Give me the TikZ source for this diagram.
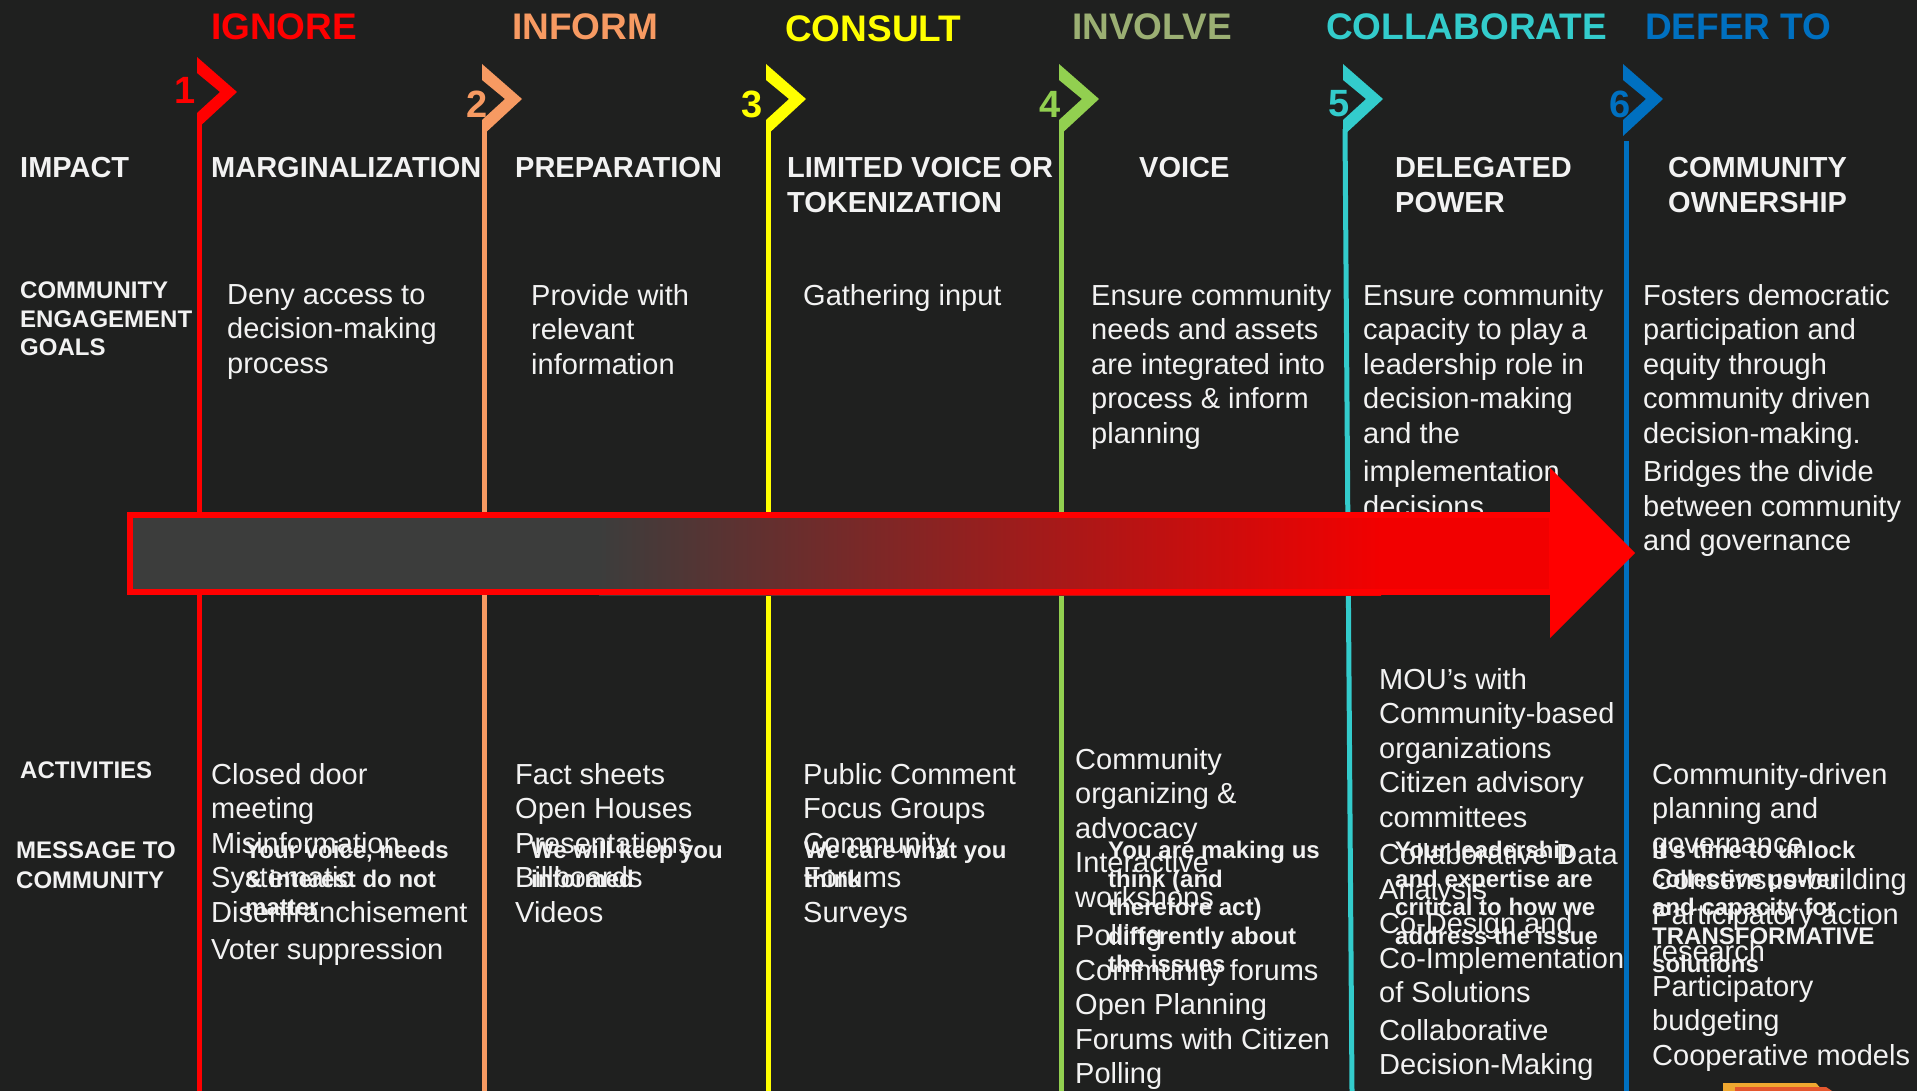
\documentclass[tikz,border=0pt]{standalone}
\usepackage{fontspec}
\setmainfont{Liberation Sans}
\usepackage{xcolor}
\usepackage{tikz}

\definecolor{bgdark}{HTML}{1F201F}
\definecolor{fg}{HTML}{F2F2F2}
\definecolor{ignorered}{HTML}{FF0000}
\definecolor{informorange}{HTML}{F79A62}
\definecolor{consultyellow}{HTML}{FFFF00}
\definecolor{involvegreen}{HTML}{92D050}
\definecolor{involvetitle}{HTML}{9BAF73}
\definecolor{collabteal}{HTML}{33CCCC}
\definecolor{deferblue}{HTML}{0070C0}
\definecolor{argray}{HTML}{3C3D3C}
\definecolor{arred}{HTML}{F20000}
\definecolor{iconorange}{HTML}{F0A830}
\definecolor{iconred}{HTML}{E4572E}

\begin{document}
\begin{tikzpicture}[x=1pt, y=-1pt,
  every node/.style={inner sep=0pt, anchor=north west, text=fg, align=left},
  title/.style={font=\bfseries\fontsize{37}{40}\selectfont},
  num/.style={font=\bfseries\fontsize{38}{40}\selectfont, anchor=east},
  rowlabel/.style={font=\bfseries\fontsize{24}{28.5}\selectfont},
  head/.style={font=\bfseries\fontsize{29}{35}\selectfont},
  body/.style={font=\fontsize{29}{34.5}\selectfont},
  msg/.style={font=\bfseries\fontsize{24}{28.5}\selectfont},
  stage/.style={line width=5pt}]
  \fill[bgdark] (0,0) rectangle (1917,1091);
  \useasboundingbox (0,0) rectangle (1917,1091);

  % Stage lines with their chevrons
  \foreach \x/\t/\c in {199/57/ignorered, 484/64/informorange, 768/64/consultyellow,
                        1061/64/involvegreen, 1345/64/collabteal, 1625/64/deferblue}
    \fill[\c] (\x-2,\t) -- ++(40,35) -- ++(-40,37) -- ++(0,-16) -- ++(23,-21) -- ++(-23,-19) -- cycle;
  \draw[stage, ignorered] (199,122) -- (199,1091);
  \draw[stage, informorange] (484,129) -- (484,1091);
  \draw[stage, consultyellow] (768,129) -- (768,1091);
  \draw[stage, involvegreen] (1061,129) -- (1061,1091);
  \draw[stage, collabteal] (1345,129) -- (1352,1091);
  \draw[stage, deferblue] (1626,141) -- (1626,1091);

  \node[num, text=ignorered] (n1) at (196,90) {1};
  \node[num, text=informorange] (n2) at (488,104) {2};
  \node[num, text=consultyellow] (n3) at (763,104) {3};
  \node[num, text=involvegreen] (n4) at (1061,104) {4};
  \node[num, text=collabteal] (n5) at (1350,104) {5};
  \node[num, text=deferblue] (n6) at (1631,104) {6};

  % Stage titles
  \node[title, text=ignorered] (t1) at (211,13) {IGNORE};
  \node[title, text=informorange] (t2) at (512,13) {INFORM};
  \node[title, text=consultyellow] (t3) at (785,15) {CONSULT};
  \node[title, text=involvetitle] (t4) at (1072,13) {INVOLVE};
  \node[title, text=collabteal] (t5) at (1326,13) {COLLABORATE};
  \node[title, text=deferblue] (t6) at (1645,13) {DEFER TO};

  % Impact row
  \node[head] (h0) at (20,157) {IMPACT};
  \node[head] (h1) at (211,157) {MARGINALIZATION};
  \node[head] (h2) at (515,157) {PREPARATION};
  \node[head] (h3) at (787,157) {LIMITED VOICE OR\\TOKENIZATION};
  \node[head] (h4) at (1139,157) {VOICE};
  \node[head] (h5) at (1395,157) {DELEGATED\\POWER};
  \node[head] (h6) at (1668,157) {COMMUNITY\\OWNERSHIP};

  % Goals row
  \node[rowlabel] (g0) at (20,282) {COMMUNITY\\ENGAGEMENT\\GOALS};
  \node[body] (g1) at (227,284) {Deny access to\\decision-making\\process};
  \node[body] (g2) at (531,284) {Provide with\\relevant\\information};
  \node[body] (g3) at (803,284) {Gathering input};
  \node[body] (g4) at (1091,284) {Ensure community\\needs and assets\\are integrated into\\process \& inform\\planning};
  \node[body] (g5) at (1363,284) {Ensure community\\capacity to play a\\leadership role in\\decision-making\\and the\\[4pt]implementation\\decisions};
  \node[body] (g6) at (1643,284) {Fosters democratic\\participation and\\equity through\\community driven\\decision-making.\\[4pt]Bridges the divide\\between community\\and governance};

  % Progress arrow across the stages
  \fill[argray] (127,512) rectangle (600,595);
  \shade[left color=argray, right color=arred] (599,512) rectangle (1381,595);
  \fill[arred] (1380,512) rectangle (1552,595);
  \draw[ignorered, line width=6pt] (130,515) rectangle (1552,592);
  \fill[ignorered] (1550,468) -- (1635,553) -- (1550,638) -- cycle;

  % Activities row
  \node[rowlabel] (a0) at (20,762) {ACTIVITIES};
  \node[body] (a1) at (211,763) {Closed door\\meeting\\Misinformation\\Systematic\\Disenfranchisement\\[3pt]Voter suppression};
  \node[body] (a2) at (515,763) {Fact sheets\\Open Houses\\Presentations\\Billboards\\Videos};
  \node[body] (a3) at (803,763) {Public Comment\\Focus Groups\\Community\\Forums\\Surveys};
  \node[body] (a4) at (1075,748) {Community\\organizing \&\\advocacy\\Interactive\\workshops\\[4pt]Polling\\Community forums\\Open Planning\\Forums with Citizen\\Polling};
  \node[body] (a5) at (1379,668) {MOU’s with\\Community-based\\organizations\\Citizen advisory\\committees\\[3pt]Collaborative Data\\Analysis\\Co-Design and\\Co-Implementation\\of Solutions\\[3pt]Collaborative\\Decision-Making};
  \node[body] (a6) at (1652,763) {Community-driven\\planning and\\governance\\[2pt]Consensus-building\\Participatory action\\[3pt]research\\Participatory\\budgeting\\Cooperative models};

  % Message row
  \node[rowlabel] (m0) at (16,842) {MESSAGE TO\\[1.5pt]COMMUNITY};
  \node[msg] (m1) at (245,841) {Your voice, needs\\\& interest do not\\matter};
  \node[msg] (m2) at (531,841) {We will keep you\\informed};
  \node[msg] (m3) at (804,841) {We care what you\\think};
  \node[msg] (m4) at (1108,841) {You are making us\\think (and\\therefore act)\\differently about\\the issues};
  \node[msg] (m5) at (1395,841) {Your leadership\\and expertise are\\critical to how we\\address the issue};
  \node[msg] (m6) at (1652,841) {It’s time to unlock\\collective power\\and capacity for\\TRANSFORMATIVE\\solutions};

  % corner icon
  \fill[iconorange] (1723,1083) -- (1816,1083) -- (1823,1091) -- (1723,1091) -- cycle;
  \fill[iconred] (1735,1087) -- (1826,1087) -- (1832,1091) -- (1735,1091) -- cycle;
\end{tikzpicture}
\end{document}
